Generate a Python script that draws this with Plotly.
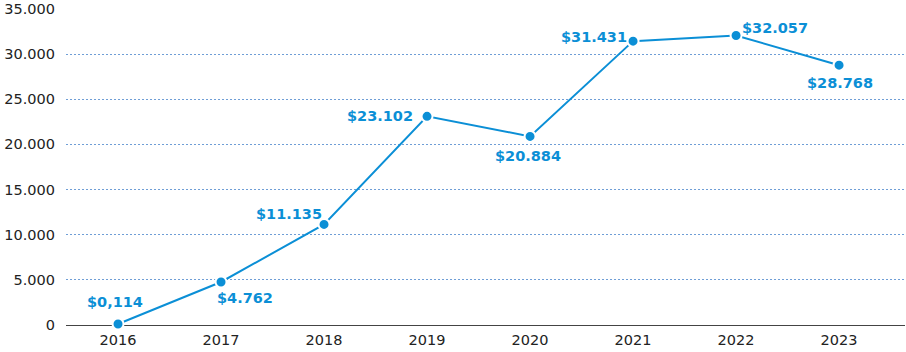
import plotly.graph_objects as go

years = ["2016", "2017", "2018", "2019", "2020", "2021", "2022", "2023"]
values = [114, 4762, 11135, 23102, 20884, 31431, 32057, 28768]
labels = ["$0,114", "$4.762", "$11.135", "$23.102", "$20.884", "$31.431", "$32.057", "$28.768"]
label_dx = [-3, 24, -35, -47, -2, -39, 39, 1]
label_dy = [22, -16, 10, 0, -20, 4, 7, -18]
ytick_vals = [0, 5000, 10000, 15000, 20000, 25000, 30000, 35000]
ytick_text = ["0", "5.000", "10.000", "15.000", "20.000", "25.000", "30.000", "35.000"]

BLUE = "#0b8fd6"
FONT = "DejaVu Sans"

fig = go.Figure()
fig.add_trace(go.Scatter(
    x=list(range(len(years))), y=values, mode="lines+markers",
    line=dict(color=BLUE, width=2),
    marker=dict(color=BLUE, size=11, line=dict(color="white", width=2)),
    hoverinfo="skip", showlegend=False, cliponaxis=False,
))

for i, (v, t) in enumerate(zip(values, labels)):
    fig.add_annotation(x=i, y=v, text=t, showarrow=False,
                       xshift=label_dx[i], yshift=label_dy[i],
                       font=dict(family=FONT, size=14.5, color=BLUE, weight="bold"))

fig.update_layout(
    width=906, height=352,
    margin=dict(l=66, r=1, t=8, b=27),
    paper_bgcolor="white", plot_bgcolor="white",
    font=dict(family=FONT, size=14.5, color="#222222"),
    xaxis=dict(range=[-0.505, 7.64], tickmode="array",
               tickvals=list(range(len(years))), ticktext=years,
               showgrid=False, zeroline=False, showline=False, ticks="",
               ticklabelstandoff=4),
    yaxis=dict(range=[0, 35100], tickmode="array", tickvals=ytick_vals,
               ticktext=ytick_text, showgrid=True, gridcolor="#6f9ed6",
               griddash="1.5px,2.5px", gridwidth=1, zeroline=True,
               zerolinecolor="#444444", zerolinewidth=1.2,
               showline=False, ticks="", ticklabelstandoff=10),
)

fig.write_html("out.html")
